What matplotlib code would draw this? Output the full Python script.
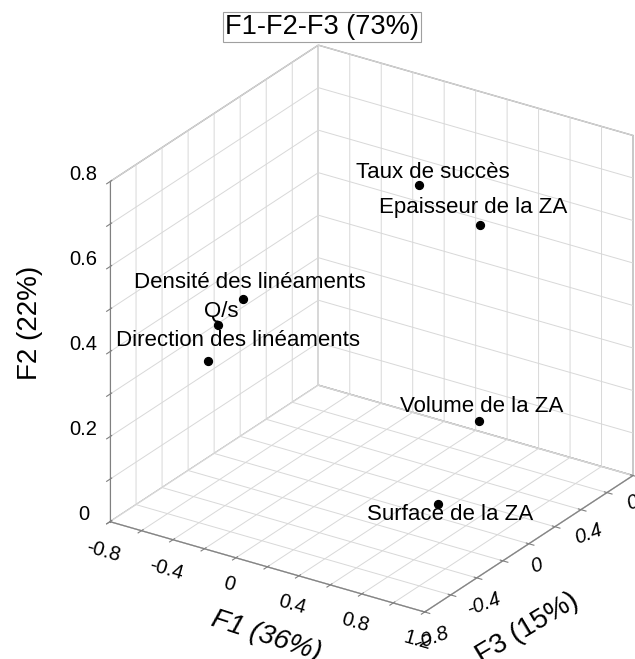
import numpy as np
import matplotlib
matplotlib.use("Agg")
import matplotlib.pyplot as plt
from matplotlib.ticker import FixedLocator, FuncFormatter
from matplotlib.transforms import offset_copy
from mpl_toolkits.mplot3d import proj3d

# variables and their coordinates on the first three factors
variables = ["Taux de succès", "Epaisseur de la ZA", "Densité des linéaments", "Q/s",
             "Direction des linéaments", "Volume de la ZA", "Surface de la ZA"]
f1 = [0.50, 0.64, -0.37, -0.53, -0.59, 0.55, 0.79]
f2 = [0.77, 0.63, 0.47, 0.39, 0.30, 0.14, 0.09]
f3 = [0.00, 0.30, -0.30, -0.30, -0.30, 0.40, -0.20]

f1_lim = (-0.8, 1.2)
f2_lim = (0.0, 0.8)
f3_lim = (-0.8, 0.8)

# label offsets in pixels (dx, dy)
label_offsets = [(14, 7), (-7, 12), (7, 11), (4, 8), (30, 15), (3, 9), (12, -16)]

plt.rcParams["font.family"] = ["Liberation Sans", "DejaVu Sans"]
plt.rcParams["axes.unicode_minus"] = False
plt.rcParams["grid.color"] = "#d8d8d8"
plt.rcParams["grid.linewidth"] = 0.7

W, H = 635, 659
fig = plt.figure(figsize=(W / 100, H / 100), dpi=100)
ax = fig.add_subplot(projection="3d", proj_type="ortho")
ax.view_init(elev=25.7, azim=-56.5)
ax.set_box_aspect((1, 1, 1))

# matplotlib axes: x = F1, y = F3, z = F2
ax.scatter(f1, f3, f2, s=32, c="black", depthshade=False)
for name, x, y, z, (dx, dy) in zip(variables, f1, f3, f2, label_offsets):
    tr = offset_copy(ax.transData, fig=fig, x=dx, y=dy, units="dots")
    ax.text(x, y, z, name, transform=tr, ha="center", va="baseline", fontsize=16)

ax.set_xlim(*f1_lim)
ax.set_ylim(*f3_lim)
ax.set_zlim(*f2_lim)


def every(step):
    def fmt(v, pos):
        if abs(v / step - round(v / step)) > 1e-6:
            return ""
        s = f"{round(v, 1):g}"
        return "0" if s == "-0" else s
    return FuncFormatter(fmt)


ax.xaxis.set_major_locator(FixedLocator(np.arange(-0.8, 1.21, 0.2)))
ax.yaxis.set_major_locator(FixedLocator(np.arange(-0.8, 0.81, 0.2)))
ax.zaxis.set_major_locator(FixedLocator(np.arange(0, 0.81, 0.1)))
ax.xaxis.set_major_formatter(every(0.4))
ax.yaxis.set_major_formatter(every(0.4))
ax.zaxis.set_major_formatter(every(0.2))
ax.zaxis.set_ticks_position("lower")

for axis in (ax.xaxis, ax.yaxis, ax.zaxis):
    axis.set_pane_color((1, 1, 1, 1))
    axis.pane.set_edgecolor("#a0a0a0")
    axis.line.set_color("#808080")
ax.tick_params(axis="x", colors="#808080", labelcolor="black", labelsize=14.5,
               labelrotation=-16, pad=0)
ax.tick_params(axis="y", colors="#808080", labelcolor="black", labelsize=14.5,
               labelrotation=20, pad=-2)
ax.tick_params(axis="z", colors="#808080", labelcolor="black", labelsize=14.5, pad=4)
for lab in ax.get_yticklabels():
    lab.set_fontstyle("italic")
for lab in ax.get_zticklabels():
    lab.set_verticalalignment("bottom")

# axis titles, placed as in the original
fig.text(266 / W, 1 - 636 / H, "F1 (36%)", ha="center", va="center", fontsize=20,
         fontstyle="italic", rotation=-18)
fig.text(527 / W, 1 - 628 / H, "F3 (15%)", ha="center", va="center", fontsize=20,
         rotation=31)
fig.text(30 / W, 1 - 323 / H, "F2 (22%)", ha="center", va="center", fontsize=20,
         rotation=90)

fig.text(322 / W, 1 - 27 / H, "F1-F2-F3 (73%)", ha="center", va="center", fontsize=19.5,
         bbox=dict(boxstyle="square,pad=0.08", fc="white", ec="#a0a0a0", lw=0.8))

# place the cube where it sits in the original picture
fig.canvas.draw()
cx, cy, cz = np.meshgrid(f1_lim, f3_lim, f2_lim)
px, py, _ = proj3d.proj_transform(cx.ravel(), cy.ravel(), cz.ravel(), ax.M)
pix = ax.transData.transform(np.column_stack([px, py]))
pos = ax.get_position()
l, b, w, h = pos.x0 * W, pos.y0 * H, pos.width * W, pos.height * H
s = (633 - 110) / (pix[:, 0].max() - pix[:, 0].min())
l2 = 110 - s * (pix[:, 0].min() - l)
b2 = (H - 612) - s * (pix[:, 1].min() - b)
ax.set_position([l2 / W, b2 / H, s * w / W, s * h / H])

fig.savefig("out.png", dpi=100, facecolor="white")
